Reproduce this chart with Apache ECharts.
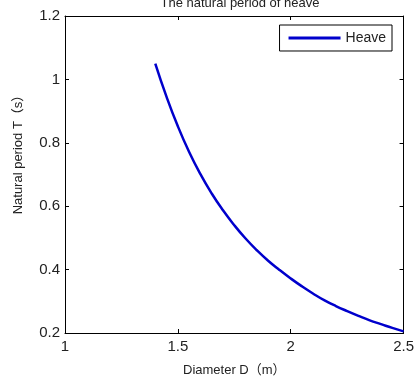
<!DOCTYPE html>
<html>
<head>
<meta charset="utf-8">
<script src="https://cdn.jsdelivr.net/npm/echarts@6/dist/echarts.min.js"></script>
<style>html,body{margin:0;padding:0;background:#fff;}#c{width:417px;height:383px;}</style>
</head>
<body>
<div id="c"></div>
<script>
var diameters = [1.40,1.45,1.50,1.55,1.60,1.65,1.70,1.75,1.80,1.85,1.90,1.95,2.00,2.05,2.10,2.15,2.20,2.25,2.30,2.35,2.40,2.45,2.50];
var heavePeriod = [1.050,0.945,0.852,0.771,0.701,0.640,0.587,0.540,0.498,0.461,0.428,0.399,0.372,0.347,0.324,0.303,0.285,0.269,0.254,0.240,0.228,0.216,0.205];
var seriesName = 'Heave';
var titleText = 'The natural period of heave';
var xName = 'Diameter D\uFF08m\uFF09';
var yName = 'Natural period T\uFF08s\uFF09';

var font = 'Liberation Sans, Arial, Noto Sans CJK SC, sans-serif';
var txt = '#222';
var data = diameters.map(function (d, i) { return [d, heavePeriod[i]]; });

var chart = echarts.init(document.getElementById('c'), null, {renderer: 'canvas'});
var axisLine = {show: true, onZero: false, lineStyle: {color: '#000', width: 1}};
var tick = {show: true, inside: true, length: 4, lineStyle: {color: '#000'}};
chart.setOption({
  animation: false,
  backgroundColor: '#fff',
  title: {
    text: titleText, left: 235, textAlign: 'center', top: -8,
    textStyle: {fontFamily: font, fontSize: 13, fontWeight: 'normal', color: txt}
  },
  grid: {left: 65, right: 11, top: 16, bottom: 50, containLabel: false},
  legend: {
    data: [{name: seriesName, icon: 'rect'}],
    right: 25, top: 25,
    itemWidth: 52, itemHeight: 3, itemGap: 5,
    padding: [6, 6, 6, 9],
    borderColor: '#000', borderWidth: 1, backgroundColor: '#fff',
    textStyle: {fontFamily: font, fontSize: 14, color: txt}
  },
  xAxis: [{
    type: 'value', min: 1, max: 2.5, interval: 0.5, position: 'bottom',
    name: xName, nameLocation: 'middle', nameGap: 31,
    nameTextStyle: {fontFamily: font, fontSize: 13, color: txt},
    axisLine: axisLine, axisTick: tick,
    axisLabel: {fontFamily: font, fontSize: 15, color: txt, margin: 6, showMinLabel: true, showMaxLabel: true},
    splitLine: {show: false}
  }, {
    type: 'value', min: 1, max: 2.5, interval: 0.5, position: 'top',
    axisLine: axisLine, axisTick: tick, axisLabel: {show: false}, splitLine: {show: false}
  }],
  yAxis: [{
    type: 'value', min: 0.2, max: 1.2, interval: 0.2, position: 'left',
    name: yName, nameLocation: 'middle', nameGap: 40, nameRotate: 90,
    nameTextStyle: {fontFamily: font, fontSize: 13, color: txt, padding: [0, 0, 0, 46]},
    axisLine: axisLine, axisTick: tick,
    axisLabel: {fontFamily: font, fontSize: 15, color: txt, margin: 5,
      formatter: function (v) { return String(Math.round(v * 10) / 10); }},
    splitLine: {show: false}
  }, {
    type: 'value', min: 0.2, max: 1.2, interval: 0.2, position: 'right',
    axisLine: axisLine, axisTick: tick, axisLabel: {show: false}, splitLine: {show: false}
  }],
  series: [{
    name: seriesName, type: 'line', xAxisIndex: 0, yAxisIndex: 0,
    data: data, smooth: true, showSymbol: false, symbol: 'none',
    lineStyle: {color: '#0000CC', width: 2.5},
    itemStyle: {color: '#0000CC'}
  }]
});
</script>
</body>
</html>
